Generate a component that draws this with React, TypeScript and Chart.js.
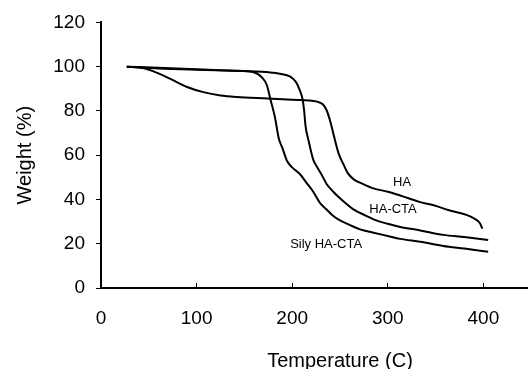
import React, { useEffect, useRef } from "react";
import { Chart, registerables } from "chart.js";

Chart.register(...registerables);

// HA curve (temperature °C, weight %)
const haX = [27, 44, 60, 72, 90, 107, 125, 142, 174, 200, 226, 232, 236, 240, 243, 248.5, 254, 258, 264, 275, 285, 300, 313, 334, 348, 365, 383, 391, 396, 399];
const haY = [100, 99.4, 97, 94.6, 90.8, 88.5, 87, 86.3, 85.6, 85, 84.2, 83, 80.3, 75, 69.8, 60.8, 55.5, 52, 49.2, 46.8, 45, 43.5, 41.8, 38.8, 37.4, 35, 32.9, 31.2, 29.5, 26.8];

// HA-CTA curve
const haCtaX = [27, 60, 100, 150, 177, 187, 198, 204, 208, 211, 212.5, 214, 217, 222, 226, 231, 236, 243, 250, 264, 278, 285, 300, 313, 334, 358, 380, 405];
const haCtaY = [100, 99.2, 98.6, 98, 97.4, 96.8, 95.5, 93, 89.3, 85, 80, 73, 66.8, 58, 54.7, 51, 47, 43.5, 40.5, 35.5, 32.5, 31, 29, 27.6, 26, 24, 23, 21.7];

// Sily HA-CTA curve
const silyX = [27, 60, 100, 140, 159, 168, 173.5, 177, 182, 186, 190, 194.5, 200, 208, 215, 222, 229, 236, 243, 250, 260, 271, 285, 300, 313, 334, 358, 380, 405];
const silyY = [100, 99.5, 98.8, 98.2, 97.6, 95.3, 91.6, 85.6, 77, 67.5, 63, 57.5, 54.5, 51.5, 47.5, 43.5, 38.5, 35.5, 32.5, 30.5, 28.5, 26.5, 25, 23.5, 22.2, 20.9, 19, 17.8, 16.4];

// In-plot labels
const labelTexts = ["HA", "HA-CTA", "Sily HA-CTA"];
const labelX = [315, 305.5, 235.5];
const labelY = [47.8, 35.6, 19.8];

const xTicks = [0, 100, 200, 300, 400, 500];
const yTicks = [0, 20, 40, 60, 80, 100, 120];

const FONT = "'Liberation Sans', Arial, sans-serif";

const toPts = (xs: number[], ys: number[]) => xs.map((x, i) => ({ x, y: ys[i] }));

const labelPlugin = {
  id: "curveLabels",
  afterDatasetsDraw(chart: any) {
    const { ctx, scales } = chart;
    ctx.save();
    ctx.fillStyle = "#000";
    ctx.font = `13px ${FONT}`;
    ctx.textAlign = "center";
    ctx.textBaseline = "middle";
    labelTexts.forEach((t, i) => {
      ctx.fillText(t, scales.x.getPixelForValue(labelX[i]), scales.y.getPixelForValue(labelY[i]));
    });
    ctx.restore();
  },
};

export default function App() {
  const ref = useRef<HTMLCanvasElement | null>(null);
  useEffect(() => {
    if (!ref.current) return;
    const line = { borderColor: "#000", borderWidth: 2, pointRadius: 0, fill: false, cubicInterpolationMode: "monotone" as const };
    const chart = new Chart(ref.current, {
      type: "line",
      data: {
        datasets: [
          { label: "HA", data: toPts(haX, haY), ...line },
          { label: "HA-CTA", data: toPts(haCtaX, haCtaY), ...line },
          { label: "Sily HA-CTA", data: toPts(silyX, silyY), ...line },
        ],
      },
      options: {
        responsive: false,
        animation: false,
        layout: { padding: { left: 0, top: 22, right: 41, bottom: 0 } },
        plugins: { legend: { display: false }, tooltip: { enabled: false } },
        scales: {
          x: {
            type: "linear",
            min: 0,
            max: 500,
            afterBuildTicks: (s: any) => { s.ticks = xTicks.map((v) => ({ value: v })); },
            afterFit: (s: any) => { s.height = 81; },
            grid: { drawOnChartArea: false, drawTicks: true, tickLength: -5, color: "#000", lineWidth: 1 },
            border: { display: true, color: "#000", width: 2 },
            ticks: { color: "#000", font: { family: FONT, size: 19 }, padding: 24, maxRotation: 0, autoSkip: false },
            title: { display: true, text: "Temperature (C)", color: "#000", font: { family: FONT, size: 20, lineHeight: 1 }, padding: { top: 0, bottom: -2 } },
          },
          y: {
            type: "linear",
            min: 0,
            max: 120,
            afterBuildTicks: (s: any) => { s.ticks = yTicks.map((v) => ({ value: v })); },
            afterFit: (s: any) => { s.width = 101; },
            grid: { drawOnChartArea: false, drawTicks: true, tickLength: 5, color: "#000", lineWidth: 1 },
            border: { display: true, color: "#000", width: 2 },
            ticks: { color: "#000", font: { family: FONT, size: 19 }, padding: 11 },
            title: { display: true, text: "Weight (%)", color: "#000", font: { family: FONT, size: 20, lineHeight: 1.2 }, padding: { top: 13, bottom: 0 } },
          },
        },
      },
      plugins: [labelPlugin],
    });
    return () => chart.destroy();
  }, []);
  return (
    <div style={{ position: "fixed", left: 0, top: 0, width: 620, height: 369, background: "#fff" }}>
      <canvas ref={ref} width={620} height={369} />
    </div>
  );
}
